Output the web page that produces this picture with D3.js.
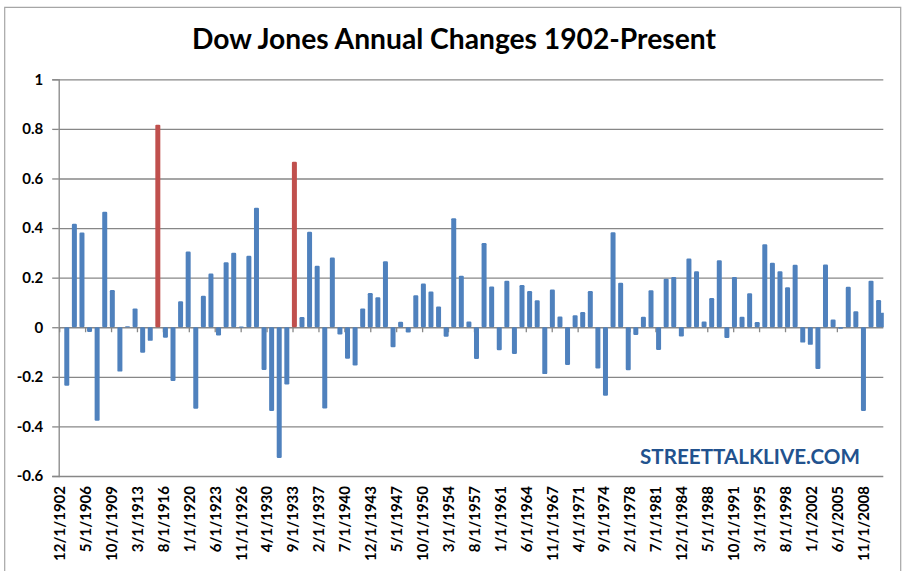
<!DOCTYPE html>
<html>
<head>
<meta charset="utf-8">
<script src="https://cdn.jsdelivr.net/npm/d3@7"></script>
<style>
  html, body { margin: 0; padding: 0; background: #fff; }
  svg { display: block; }
</style>
</head>
<body>
<svg id="chart" width="903" height="571"></svg>
<script>
// ---------------- DATA ----------------
const years = [1903,1904,1905,1906,1907,1908,1909,1910,1911,1912,1913,1914,1915,1916,1917,1918,1919,1920,
  1921,1922,1923,1924,1925,1926,1927,1928,1929,1930,1931,1932,1933,1934,1935,1936,1937,1938,1939,1940,
  1941,1942,1943,1944,1945,1946,1947,1948,1949,1950,1951,1952,1953,1954,1955,1956,1957,1958,1959,1960,
  1961,1962,1963,1964,1965,1966,1967,1968,1969,1970,1971,1972,1973,1974,1975,1976,1977,1978,1979,1980,
  1981,1982,1983,1984,1985,1986,1987,1988,1989,1990,1991,1992,1993,1994,1995,1996,1997,1998,1999,2000,
  2001,2002,2003,2004,2005,2006,2007,2008,2009,2010,2011];
const changes = [-0.236,0.417,0.382,-0.019,-0.377,0.466,0.150,-0.179,0.004,0.076,-0.103,-0.055,0.817,-0.042,-0.217,0.105,0.305,-0.329,
  0.127,0.217,-0.033,0.262,0.300,0.003,0.288,0.482,-0.172,-0.338,-0.527,-0.231,0.667,0.041,0.385,0.248,-0.328,0.281,-0.029,-0.127,
  -0.154,0.076,0.138,0.121,0.266,-0.081,0.022,-0.021,0.129,0.176,0.144,0.084,-0.038,0.440,0.208,0.023,-0.128,0.340,0.164,-0.093,
  0.187,-0.108,0.170,0.146,0.109,-0.189,0.152,0.043,-0.152,0.048,0.061,0.146,-0.166,-0.276,0.383,0.179,-0.173,-0.031,0.042,0.149,
  -0.092,0.196,0.203,-0.037,0.277,0.226,0.023,0.118,0.270,-0.043,0.203,0.042,0.137,0.021,0.335,0.260,0.226,0.161,0.252,-0.062,
  -0.071,-0.168,0.253,0.031,-0.006,0.163,0.064,-0.338,0.188,0.110,0.058];
const highlightYears = [1915, 1933];
const ytdDate = "7/1/2011";            // last point is the year-to-date value
const tickLabels = ["12/1/1902","5/1/1906","10/1/1909","3/1/1913","8/1/1916","1/1/1920","6/1/1923","11/1/1926",
  "4/1/1930","9/1/1933","2/1/1937","7/1/1940","12/1/1943","5/1/1947","10/1/1950","3/1/1954","8/1/1957",
  "1/1/1961","6/1/1964","11/1/1967","4/1/1971","9/1/1974","2/1/1978","7/1/1981","12/1/1984","5/1/1988",
  "10/1/1991","3/1/1995","8/1/1998","1/1/2002","6/1/2005","11/1/2008"];
const yTicks = [-0.6,-0.4,-0.2,0,0.2,0.4,0.6,0.8,1];
const titleText = "Dow Jones Annual Changes 1902-Present";
const watermark = "STREETTALKLIVE.COM";

// ---------------- LAYOUT ----------------
const svg = d3.select("#chart");
const L = 58.7, R = 883.3, T = 79.3, B = 476;
const parse = d3.timeParse("%m/%d/%Y");
const lastYear = years[years.length - 1];
const dateOf = (yr) => yr === lastYear ? parse(ytdDate) : new Date(yr, 11, 1);
const data = years.map((yr, i) => ({ year: yr, date: dateOf(yr), value: changes[i] }));

const x = d3.scaleTime()
  .domain([parse(tickLabels[0]), new Date(2011, 6, 15)])
  .range([59.2, R]);
const y = d3.scaleLinear().domain([-0.6, 1]).range([B, T]);

const BLUE = "#4F81BD", RED = "#C0504D", GRID = "#878787";
const FONT = "Lato, 'Open Sans', 'DejaVu Sans', sans-serif";

// outer chart border
svg.append("path")
  .attr("d", `M4.7,575 V7.3 H900.7 V575`)
  .attr("fill", "none").attr("stroke", "#a6a6a6").attr("stroke-width", 1.2);

// title
const title = svg.append("text")
  .attr("x", 454).attr("y", 48.5)
  .attr("text-anchor", "middle")
  .style("font-family", FONT).style("font-weight", 700)
  .style("font-size", "26px").attr("fill", "#000")
  .text(titleText);
const tw = title.node().getComputedTextLength();
title.style("font-size", (26 * 524 / tw) + "px");

// gridlines
svg.append("g").attr("transform", `translate(${L},0)`)
  .call(d3.axisLeft(y).tickValues(yTicks).tickSize(-(R - L)).tickFormat(""))
  .call(g => g.select(".domain").remove())
  .call(g => g.selectAll("line").attr("stroke", GRID).attr("stroke-width", 1.3));

// y axis with labels
const fmt = d => d === 0 ? "0" : d === 1 ? "1" : String(d);
svg.append("g").attr("transform", `translate(${L},0)`)
  .call(d3.axisLeft(y).tickValues(yTicks).tickSize(6.5).tickPadding(9).tickFormat(fmt))
  .call(g => g.select(".domain").attr("stroke", GRID).attr("stroke-width", 1.3))
  .call(g => g.selectAll("line").attr("stroke", GRID).attr("stroke-width", 1.3))
  .call(g => g.selectAll("text")
    .style("font-family", FONT).style("font-weight", 700).style("font-size", "15px")
    .attr("fill", "#000"));

// zero-line category axis ticks
const tickDates = tickLabels.map(parse);
svg.append("g").attr("transform", `translate(0,${y(0)})`)
  .call(d3.axisBottom(x).tickValues(tickDates).tickSize(5).tickFormat(""))
  .call(g => g.select(".domain").remove())
  .call(g => g.selectAll("line").attr("stroke", GRID).attr("stroke-width", 1.3));

// bars
svg.append("defs").append("clipPath").attr("id", "plotclip")
  .append("rect").attr("x", L).attr("y", T - 5).attr("width", R - L + 0.5).attr("height", B - T + 10);
const bw = 5;
svg.append("g").attr("clip-path", "url(#plotclip)")
  .selectAll("rect").data(data).join("rect")
  .attr("x", d => x(d.date) - bw / 2)
  .attr("width", bw)
  .attr("y", d => y(Math.max(0, d.value)))
  .attr("height", d => Math.max(1, Math.abs(y(d.value) - y(0))))
  .attr("rx", 1.2)
  .attr("fill", d => highlightYears.includes(d.year) ? RED : BLUE);

// bottom labels (rotated)
svg.append("g").attr("transform", `translate(0,${B})`)
  .call(d3.axisBottom(x).tickValues(tickDates).tickSize(0).tickFormat((d, i) => tickLabels[i]))
  .call(g => g.select(".domain").remove())
  .call(g => g.selectAll("text")
    .attr("transform", "rotate(-90)")
    .attr("text-anchor", "end")
    .attr("x", -10).attr("y", 0).attr("dy", "0.36em")
    .style("font-family", FONT).style("font-weight", 700).style("font-size", "15px")
    .attr("fill", "#000"));

// watermark
svg.append("text")
  .attr("x", 640).attr("y", 464)
  .attr("textLength", 220).attr("lengthAdjust", "spacingAndGlyphs")
  .style("font-family", FONT).style("font-weight", 700).style("font-size", "20px")
  .attr("fill", "#22528E")
  .text(watermark);
</script>
</body>
</html>
